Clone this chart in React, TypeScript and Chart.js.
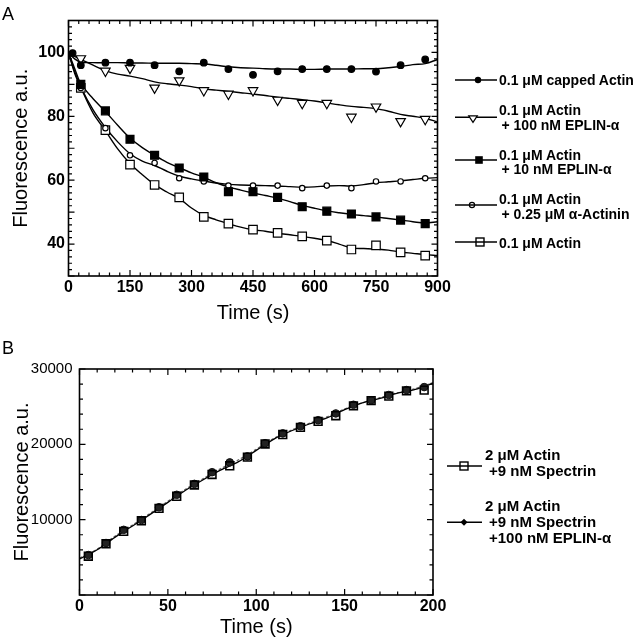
import { useEffect, useRef } from "react";
import { Chart, registerables } from "chart.js";

Chart.register(...registerables);

const FONT = "'Liberation Sans', Arial, Helvetica, sans-serif";
Chart.defaults.font.family = FONT;
Chart.defaults.color = "#000";

// ---- panel A: depolymerisation (fluorescence, a.u.) ----
const lineTimeA = [0, 15, 30, 60, 90, 120, 150, 180, 210, 240, 270, 300, 330, 360, 390, 420, 450, 480, 510, 540, 570, 600, 630, 660, 690, 720, 750, 780, 810, 840, 870, 900];
const cappedLineA = [100, 98, 97, 96.8, 96.8, 96.8, 96.7, 96.7, 96.6, 96.6, 96.6, 96.5, 96.4, 96.0, 95.5, 95.2, 95.1, 94.9, 94.8, 94.8, 94.7, 94.7, 94.8, 94.8, 94.8, 94.9, 94.9, 95.2, 95.6, 96.2, 96.5, 97.8];
const eplin100LineA = [100, 98.8, 97.8, 96.0, 94.3, 93.2, 92.6, 91.8, 90.8, 90.2, 89.8, 89.3, 88.6, 88.2, 87.8, 87.4, 87.0, 86.5, 86.0, 85.6, 85.2, 84.8, 84.2, 83.6, 83.1, 82.8, 82.4, 81.6, 80.6, 80.0, 79.4, 78.2];
const eplin10LineA = [100, 95, 90.2, 85.5, 81.5, 77.2, 73.2, 70.2, 67.8, 65.6, 63.9, 62.3, 60.9, 59.2, 57.9, 56.9, 56.0, 55.2, 54.4, 53.3, 52.1, 51.2, 50.4, 49.8, 49.3, 48.9, 48.5, 48.0, 47.5, 47.0, 46.6, 47.0];
const actininLineA = [100, 94, 89.2, 82, 76.5, 72, 68.3, 66, 64.6, 62.8, 61.3, 60.4, 59.7, 59.1, 58.7, 58.5, 58.4, 58.3, 58.2, 58.0, 57.8, 57.9, 58.2, 58.3, 58.2, 58.6, 59.2, 59.5, 59.8, 60.2, 60.6, 60.8];
const actinLineA = [100, 93.5, 89, 81, 75.5, 69.8, 65.2, 61.7, 58.6, 56.3, 54.3, 51.3, 49, 47.6, 46.4, 45.3, 44.5, 44, 43.4, 42.9, 42.4, 41.8, 41.1, 40.0, 38.8, 38.6, 38.4, 38.1, 37.5, 37.1, 36.7, 36.4];

const cappedMarkTimeA = [10, 30, 90, 150, 210, 270, 330, 390, 450, 510, 570, 630, 690, 750, 810, 870];
const cappedMarkA = [99.8, 96, 96.8, 96.8, 96, 94.1, 96.8, 94.8, 93, 94.1, 94.8, 94.8, 94.8, 94, 96, 97.8];
const markTimeA = [30, 90, 150, 210, 270, 330, 390, 450, 510, 570, 630, 690, 750, 810, 870];
const eplin100MarkA = [98.1, 94.2, 95.1, 88.9, 91.2, 88.1, 87.0, 88.1, 85.1, 84.1, 84.1, 79.8, 83.0, 78.4, 79.1];
const eplin10MarkA = [90.0, 81.7, 72.8, 67.8, 63.8, 61.0, 56.4, 56.4, 54.6, 51.7, 50.3, 49.4, 48.5, 47.5, 46.4];
const actininMarkA = [88.9, 76.3, 67.8, 65.4, 60.6, 59.6, 58.3, 58.3, 58.3, 57.5, 58.3, 57.5, 59.6, 59.6, 60.6];
const actinMarkA = [88.9, 75.7, 64.9, 58.5, 54.6, 48.5, 46.4, 44.5, 43.5, 42.4, 41.1, 38.3, 39.6, 37.4, 36.4];

const xTicksA = [0, 150, 300, 450, 600, 750, 900];
const yTicksA = [40, 60, 80, 100];

const legendA = [
  ["0.1 μM capped Actin"],
  ["0.1 μM Actin", "+ 100 nM EPLIN-α"],
  ["0.1 μM Actin", "+ 10 nM EPLIN-α"],
  ["0.1 μM Actin", "+ 0.25 μM α-Actinin"],
  ["0.1 μM Actin"],
];

// ---- panel B: polymerisation with spectrin seeds ----
const markTimeB = [5, 15, 25, 35, 45, 55, 65, 75, 85, 95, 105, 115, 125, 135, 145, 155, 165, 175, 185, 195];
const spectrinMarkB = [5150, 6800, 8450, 9850, 11500, 13100, 14600, 16000, 17150, 18300, 20050, 21300, 22250, 23050, 23800, 25100, 25800, 26400, 27100, 27200];
const eplinMarkB = [5300, 6900, 8650, 9950, 11650, 13300, 14750, 16300, 17600, 18400, 20150, 21450, 22400, 23200, 24100, 25250, 25850, 26550, 27200, 27600];
const lineTimeB = [0, 10, 20, 30, 40, 50, 60, 70, 80, 90, 100, 110, 120, 130, 140, 150, 160, 170, 180, 190, 200];
const spectrinLineB = [4800, 6000, 7650, 9150, 10700, 12300, 13900, 15300, 16600, 17700, 19200, 20700, 21800, 22700, 23500, 24600, 25500, 26100, 26800, 27300, 28100];
const eplinLineB = [4900, 6100, 7800, 9300, 10850, 12450, 14050, 15450, 16800, 17950, 19350, 20800, 21900, 22800, 23650, 24700, 25500, 26200, 26850, 27400, 28200];

const xTicksB = [0, 50, 100, 150, 200];
const yTicksB = [10000, 20000, 30000];

const legendB = [
  ["2 μM Actin", "+9 nM Spectrin"],
  ["2 μM Actin", "+9 nM Spectrin", "+100 nM EPLIN-α"],
];

const pts = (xs: number[], ys: number[]) => xs.map((x, i) => ({ x, y: ys[i] }));

// boxed frame with inward ticks on all four sides
const framePlugin = {
  id: "frame",
  afterDatasetsDraw(chart: any, _args: any, opts: any) {
    const { ctx, chartArea, scales } = chart;
    const { left, right, top, bottom } = chartArea;
    const x = scales.x;
    const y = scales.y;
    ctx.save();
    ctx.strokeStyle = "#000";
    ctx.lineWidth = 1.6;
    ctx.strokeRect(left, top, right - left, bottom - top);
    ctx.lineWidth = 1.2;
    ctx.beginPath();
    const nx = Math.round((x.max - x.min) / opts.xStep);
    for (let i = 0; i <= nx; i++) {
      const v = x.min + i * opts.xStep;
      const len = v % opts.xMajor === 0 ? 6 : 3.5;
      const px = x.getPixelForValue(v);
      ctx.moveTo(px, bottom);
      ctx.lineTo(px, bottom - len);
      ctx.moveTo(px, top);
      ctx.lineTo(px, top + len);
    }
    const ny = Math.round((y.max - y.min) / opts.yStep);
    for (let i = 0; i <= ny; i++) {
      const v = y.min + i * opts.yStep;
      const len = v % opts.yMajor === 0 ? 6 : 3.5;
      const py = y.getPixelForValue(v);
      ctx.moveTo(left, py);
      ctx.lineTo(left + len, py);
      ctx.moveTo(right, py);
      ctx.lineTo(right - len, py);
    }
    ctx.stroke();
    ctx.restore();
  },
};

function axis(o: any) {
  return {
    type: "linear",
    min: o.min,
    max: o.max,
    grid: { display: false, drawTicks: false },
    border: { display: false },
    afterBuildTicks: (s: any) => {
      s.ticks = o.ticks.map((value: number) => ({ value }));
    },
    afterFit: (s: any) => {
      if (o.width != null) s.width = o.width;
      if (o.height != null) s.height = o.height;
    },
    ticks: {
      padding: o.pad,
      autoSkip: false,
      maxRotation: 0,
      color: "#000",
      font: { size: o.tickSize, weight: o.tickWeight },
      callback: (v: number) => String(v),
    },
    title: {
      display: true,
      text: o.title,
      color: "#000",
      font: { size: 20 },
      padding: o.titlePad,
    },
  };
}

function configA(): any {
  const line = (ys: number[]) => ({
    data: pts(lineTimeA, ys),
    showLine: true,
    borderColor: "#000",
    borderWidth: 1.4,
    pointRadius: 0,
    tension: 0.35,
    order: 1,
  });
  const mark = (xs: number[], ys: number[], extra: any) => ({
    data: pts(xs, ys),
    showLine: false,
    pointBorderColor: "#000",
    pointBorderWidth: 1.2,
    order: 0,
    ...extra,
  });
  return {
    type: "scatter",
    data: {
      datasets: [
        mark(cappedMarkTimeA, cappedMarkA, { pointStyle: "circle", pointRadius: 3.3, pointBackgroundColor: "#000" }),
        mark(markTimeA, eplin100MarkA, { pointStyle: "triangle", pointRotation: 180, pointRadius: 5.5, pointBackgroundColor: "#fff" }),
        mark(markTimeA, eplin10MarkA, { pointStyle: "rect", pointRadius: 5.6, pointBackgroundColor: "#000" }),
        mark(markTimeA, actininMarkA, { pointStyle: "circle", pointRadius: 2.7, pointBackgroundColor: "#fff" }),
        mark(markTimeA, actinMarkA, { pointStyle: "rect", pointRadius: 6, pointBackgroundColor: "#fff" }),
        line(cappedLineA),
        line(eplin100LineA),
        line(eplin10LineA),
        line(actininLineA),
        line(actinLineA),
      ],
    },
    options: {
      animation: false,
      responsive: true,
      maintainAspectRatio: false,
      layout: { padding: { left: 0, top: 20.5, right: 22.5, bottom: 0 } },
      plugins: {
        legend: { display: false },
        tooltip: { enabled: false },
        frame: { xStep: 25, xMajor: 150, yStep: 2, yMajor: 10 },
      },
      scales: {
        x: axis({ min: 0, max: 900, ticks: xTicksA, height: 54, pad: 2, tickSize: 16, tickWeight: "bold", title: "Time (s)", titlePad: { top: 0, bottom: 5 } }),
        y: axis({ min: 30, max: 110, ticks: yTicksA, width: 68.5, pad: 3.5, tickSize: 16, tickWeight: "bold", title: "Fluorescence a.u.", titlePad: { top: 9, bottom: 0 } }),
      },
    },
    plugins: [framePlugin],
  };
}

function configB(): any {
  return {
    type: "scatter",
    data: {
      datasets: [
        {
          data: pts(markTimeB, spectrinMarkB),
          showLine: false,
          pointStyle: "rect",
          pointRadius: 5.5,
          pointBorderColor: "#000",
          pointBorderWidth: 1.6,
          pointBackgroundColor: "rgba(255,255,255,0)",
          order: 0,
        },
        {
          data: pts(markTimeB, eplinMarkB),
          showLine: false,
          pointStyle: "circle",
          pointRadius: 3.8,
          pointBorderColor: "#111",
          pointBorderWidth: 1,
          pointBackgroundColor: "#222",
          order: 1,
        },
        {
          data: pts(lineTimeB, spectrinLineB),
          showLine: true,
          borderColor: "#000",
          borderWidth: 1.3,
          pointRadius: 0,
          tension: 0.3,
          order: 2,
        },
        {
          data: pts(lineTimeB, eplinLineB),
          showLine: true,
          borderColor: "#666",
          borderWidth: 1.2,
          borderDash: [3, 2],
          pointRadius: 0,
          tension: 0.3,
          order: 2,
        },
      ],
    },
    options: {
      animation: false,
      responsive: true,
      maintainAspectRatio: false,
      layout: { padding: { left: 0, top: 29, right: 22, bottom: 0 } },
      plugins: {
        legend: { display: false },
        tooltip: { enabled: false },
        frame: { xStep: 10, xMajor: 50, yStep: 2000, yMajor: 10000 },
      },
      scales: {
        x: axis({ min: 0, max: 200, ticks: xTicksB, height: 45, pad: 1.5, tickSize: 16, tickWeight: "bold", title: "Time (s)", titlePad: { top: 0, bottom: 1 } }),
        y: axis({ min: 0, max: 30000, ticks: yTicksB, width: 79.5, pad: 7, tickSize: 15, tickWeight: "normal", title: "Fluorescence a.u.", titlePad: { top: 10, bottom: 0 } }),
      },
    },
    plugins: [framePlugin],
  };
}

function Panel({ make, box }: { make: () => any; box: any }) {
  const ref = useRef<HTMLCanvasElement | null>(null);
  useEffect(() => {
    if (!ref.current) return;
    const chart = new Chart(ref.current, make());
    return () => chart.destroy();
  }, []);
  return (
    <div style={{ position: "absolute", ...box }}>
      <canvas ref={ref} />
    </div>
  );
}

function Symbol({ kind, x, y }: { kind: string; x: number; y: number }) {
  if (kind === "dot") return <circle cx={x} cy={y} r={3.2} fill="#000" />;
  if (kind === "tri")
    return <polygon points={`${x - 4.3},${y - 1.5} ${x + 4.3},${y - 1.5} ${x},${y + 5}`} fill="#fff" stroke="#000" strokeWidth={1.2} />;
  if (kind === "fsq") return <rect x={x - 3.8} y={y - 3.8} width={7.6} height={7.6} fill="#000" />;
  if (kind === "oc") return <circle cx={x} cy={y} r={2.6} fill="none" stroke="#000" strokeWidth={1.2} />;
  if (kind === "osq") return <rect x={x - 4} y={y - 4} width={8} height={8} fill="none" stroke="#000" strokeWidth={1.4} />;
  if (kind === "dia") return <polygon points={`${x - 3.5},${y} ${x},${y - 3.5} ${x + 3.5},${y} ${x},${y + 3.5}`} fill="#000" />;
  return null;
}

function Legends() {
  const itemsA = [
    { sym: "dot", sy: 80, mx: 478, ly: [80], lx: [499] },
    { sym: "tri", sy: 117.3, mx: 473, ly: [110, 125], lx: [499, 501.5] },
    { sym: "fsq", sy: 160, mx: 479, ly: [155, 168.5], lx: [499, 501.5] },
    { sym: "oc", sy: 205, mx: 472, ly: [198.5, 213.5], lx: [499, 501.5] },
    { sym: "osq", sy: 242, mx: 480, ly: [242.5], lx: [499] },
  ];
  const itemsB = [
    { sym: "osq", sy: 466, mx: 464, ly: [454, 470], lx: [485, 489] },
    { sym: "dia", sy: 522.3, mx: 464, ly: [505, 521, 537.5], lx: [485, 489, 489] },
  ];
  return (
    <svg width={640} height={640} style={{ position: "absolute", left: 0, top: 0, pointerEvents: "none" }} fontFamily={FONT}>
      <text x={2} y={20} fontSize={18}>A</text>
      <text x={2} y={354} fontSize={18}>B</text>
      {itemsA.map((it, i) => (
        <g key={"a" + i}>
          <line x1={455} x2={497} y1={it.sy} y2={it.sy} stroke="#000" strokeWidth={1.4} />
          <Symbol kind={it.sym} x={it.mx} y={it.sy} />
          {legendA[i].map((t, j) => (
            <text key={j} x={it.lx[j]} y={it.ly[j]} dominantBaseline="central" fontSize={14} fontWeight="bold">
              {t}
            </text>
          ))}
        </g>
      ))}
      {itemsB.map((it, i) => (
        <g key={"b" + i}>
          <line x1={447} x2={482} y1={it.sy} y2={it.sy} stroke="#000" strokeWidth={1.4} />
          <Symbol kind={it.sym} x={it.mx} y={it.sy} />
          {legendB[i].map((t, j) => (
            <text key={j} x={it.lx[j]} y={it.ly[j]} dominantBaseline="central" fontSize={15} fontWeight="bold">
              {t}
            </text>
          ))}
        </g>
      ))}
    </svg>
  );
}

export default function App() {
  return (
    <div style={{ position: "fixed", left: 0, top: 0, width: 640, height: 640, background: "#fff", overflow: "hidden" }}>
      <Panel make={configA} box={{ left: 0, top: 0, width: 460, height: 330 }} />
      <Panel make={configB} box={{ left: 0, top: 340, width: 455, height: 300 }} />
      <Legends />
    </div>
  );
}
